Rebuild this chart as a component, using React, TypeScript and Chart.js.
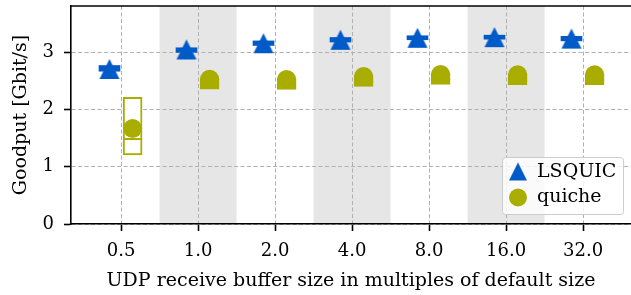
import React, { useEffect, useRef } from 'react';
import { Chart, registerables } from 'chart.js';

Chart.register(...registerables);

// ---- data ----
const categories = ['0.5', '1.0', '2.0', '4.0', '8.0', '16.0', '32.0'];
const seriesNames = ['LSQUIC', 'quiche'];
const lsquicMean = [2.71, 3.05, 3.16, 3.22, 3.255, 3.265, 3.24];
const lsquicMedian = [2.72, 3.05, 3.16, 3.22, 3.26, 3.27, 3.24];
const lsquicBoxLow = [2.67, 3.0, 3.12, 3.18, 3.22, 3.23, 3.2];
const lsquicBoxHigh = [2.77, 3.08, 3.2, 3.26, 3.29, 3.3, 3.28];
const quicheMean = [1.67, 2.53, 2.525, 2.58, 2.615, 2.61, 2.61];
const quicheMedian = [1.485, 2.45, 2.44, 2.49, 2.53, 2.52, 2.52];
const quicheBoxLow = [1.206, 2.355, 2.35, 2.405, 2.44, 2.435, 2.435];
const quicheBoxHigh = [2.214, 2.55, 2.545, 2.6, 2.635, 2.63, 2.63];
const yTicks = [0, 1, 2, 3];
const shadedCategories = ['1.0', '4.0', '16.0'];
const xLabel = 'UDP receive buffer size in multiples of default size';
const yLabel = 'Goodput [Gbit/s]';

// ---- styles ----
const BLUE = '#005ac8';
const OLIVE = '#a9ad00';
const FONT = 'DejaVu Serif';
const DODGE = 0.15;

function makeTriangle(size: number, color: string): HTMLCanvasElement {
  const c = document.createElement('canvas');
  c.width = size + 2;
  c.height = size + 2;
  const g = c.getContext('2d')!;
  g.fillStyle = color;
  g.beginPath();
  g.moveTo(1 + size / 2, 1);
  g.lineTo(1 + size, 1 + size);
  g.lineTo(1, 1 + size);
  g.closePath();
  g.fill();
  return c;
}

export default function App() {
  const ref = useRef<HTMLCanvasElement | null>(null);

  useEffect(() => {
    if (!ref.current) return;
    const tri = makeTriangle(20, BLUE);
    const triLegend = makeTriangle(18, BLUE);

    const bandsPlugin = {
      id: 'bands',
      beforeDraw(chart: any) {
        const { ctx, chartArea } = chart;
        const xs = chart.scales.x;
        ctx.save();
        ctx.beginPath();
        ctx.rect(chartArea.left, chartArea.top, chartArea.right - chartArea.left, chartArea.bottom - chartArea.top);
        ctx.clip();
        ctx.fillStyle = '#e6e6e6';
        shadedCategories.forEach((c) => {
          const i = categories.indexOf(c);
          const x0 = xs.getPixelForValue(i - 0.5);
          const x1 = xs.getPixelForValue(i + 0.5);
          ctx.fillRect(x0, chartArea.top, x1 - x0, chartArea.bottom - chartArea.top);
        });
        ctx.restore();
      },
    };

    const framePlugin = {
      id: 'frame',
      afterDraw(chart: any) {
        const { ctx, chartArea } = chart;
        ctx.save();
        ctx.strokeStyle = '#000';
        ctx.lineWidth = 1.6;
        ctx.beginPath();
        ctx.moveTo(chartArea.left - 0.8, chartArea.top);
        ctx.lineTo(chartArea.right, chartArea.top);
        ctx.stroke();

        // legend
        const w = 121;
        const h = 57;
        const right = chartArea.right - 8;
        const bottom = chartArea.bottom - 10;
        const left = right - w;
        const top = bottom - h;
        ctx.fillStyle = 'rgba(255,255,255,0.8)';
        ctx.strokeStyle = '#cccccc';
        ctx.lineWidth = 1;
        ctx.beginPath();
        (ctx as any).roundRect(left + 0.5, top + 0.5, w, h, 3);
        ctx.fill();
        ctx.stroke();
        ctx.drawImage(triLegend, left + 16 - triLegend.width / 2, top + 14.5 - triLegend.height / 2);
        ctx.fillStyle = OLIVE;
        ctx.beginPath();
        ctx.arc(left + 16, top + 40.5, 9, 0, Math.PI * 2);
        ctx.fill();
        ctx.fillStyle = '#000';
        ctx.font = `19px "${FONT}"`;
        ctx.textBaseline = 'middle';
        ctx.textAlign = 'left';
        ctx.fillText(seriesNames[0], left + 35, top + 15);
        ctx.fillText(seriesNames[1], left + 35, top + 40);
        ctx.restore();
      },
    };

    const chart = new Chart(ref.current, {
      type: 'scatter',
      data: {
        datasets: [
          {
            type: 'scatter',
            label: seriesNames[0],
            data: lsquicMean.map((v, i) => ({ x: i - DODGE, y: v })),
            pointStyle: tri as any,
            pointRadius: 10,
            order: 0,
          },
          {
            type: 'scatter',
            label: seriesNames[1],
            data: quicheMean.map((v, i) => ({ x: i + DODGE, y: v })),
            pointStyle: 'circle',
            pointRadius: 9.5,
            backgroundColor: OLIVE,
            borderWidth: 0,
            order: 0,
          },
          {
            type: 'scatter',
            label: seriesNames[0] + ' median',
            data: lsquicMedian.map((v, i) => ({ x: i - DODGE, y: v })),
            pointStyle: 'line',
            pointRadius: 10,
            borderColor: BLUE,
            borderWidth: 2,
            order: 1,
          },
          {
            type: 'scatter',
            label: seriesNames[1] + ' median',
            data: quicheMedian.map((v, i) => ({ x: i + DODGE, y: v })),
            pointStyle: 'line',
            pointRadius: 9.5,
            borderColor: OLIVE,
            borderWidth: 2,
            order: 1,
          },
          {
            type: 'bar',
            label: seriesNames[0] + ' box',
            data: lsquicBoxLow.map((lo, i) => ({ x: i - DODGE, y: [lo, lsquicBoxHigh[i]] })) as any,
            backgroundColor: BLUE,
            borderWidth: 0,
            barThickness: 21,
            grouped: false,
            order: 2,
          } as any,
          {
            type: 'bar',
            label: seriesNames[1] + ' box',
            data: quicheBoxLow.map((lo, i) => ({ x: i + DODGE, y: [lo, quicheBoxHigh[i]] })) as any,
            backgroundColor: (c: any) => {
              const i = c.dataIndex;
              return quicheBoxHigh[i] - quicheBoxLow[i] > 0.5 ? '#ffffff' : OLIVE;
            },
            borderColor: OLIVE,
            borderWidth: 2,
            borderSkipped: false,
            barThickness: 19,
            grouped: false,
            order: 2,
          } as any,
        ],
      },
      options: {
        animation: false,
        responsive: true,
        maintainAspectRatio: false,
        layout: { autoPadding: false, padding: { top: 6, left: 0, right: 0, bottom: 0 } },
        plugins: { legend: { display: false }, tooltip: { enabled: false } },
        scales: {
          x: {
            type: 'linear',
            min: -0.65,
            max: -0.65 + 560 / 77,
            offset: false,
            afterBuildTicks: (s: any) => {
              s.ticks = categories.map((_, i) => ({ value: i }));
            },
            afterFit: (s: any) => {
              s.height = 71;
              s.paddingLeft = 0;
              s.paddingRight = 0;
            },
            ticks: {
              callback: (v: any) => categories[v] ?? '',
              font: { family: FONT, size: 18 },
              color: '#000',
              padding: 10,
              maxRotation: 0,
              autoSkip: false,
            },
            grid: {
              color: '#b0b0b0',
              lineWidth: 1,
              tickColor: '#000',
              tickWidth: 1.6,
              tickLength: 7,
              offset: false,
            },
            border: { color: '#000', width: 1.6, dash: [4, 2.5] },
            title: {
              display: true,
              text: xLabel,
              color: '#000',
              font: { family: FONT, size: 19 },
              padding: { top: 0, bottom: 3 },
            },
          },
          y: {
            type: 'linear',
            min: 0,
            max: 3.81,
            afterBuildTicks: (s: any) => {
              s.ticks = yTicks.map((v) => ({ value: v }));
            },
            afterFit: (s: any) => {
              s.width = 71;
              s.paddingTop = 0;
              s.paddingBottom = 0;
            },
            ticks: {
              font: { family: FONT, size: 18 },
              color: '#000',
              padding: 10,
            },
            grid: {
              color: '#b0b0b0',
              lineWidth: 1,
              tickColor: '#000',
              tickWidth: 1.6,
              tickLength: 7,
            },
            border: { color: '#000', width: 1.6, dash: [4, 2.5] },
            title: {
              display: true,
              text: yLabel,
              color: '#000',
              font: { family: FONT, size: 19 },
              padding: { top: 10, bottom: 0 },
            },
          },
        },
      },
      plugins: [bandsPlugin, framePlugin],
    } as any);

    return () => chart.destroy();
  }, []);

  return (
    <div style={{ position: 'fixed', left: 0, top: 0, width: 631, height: 295 }}>
      <canvas ref={ref} />
    </div>
  );
}
